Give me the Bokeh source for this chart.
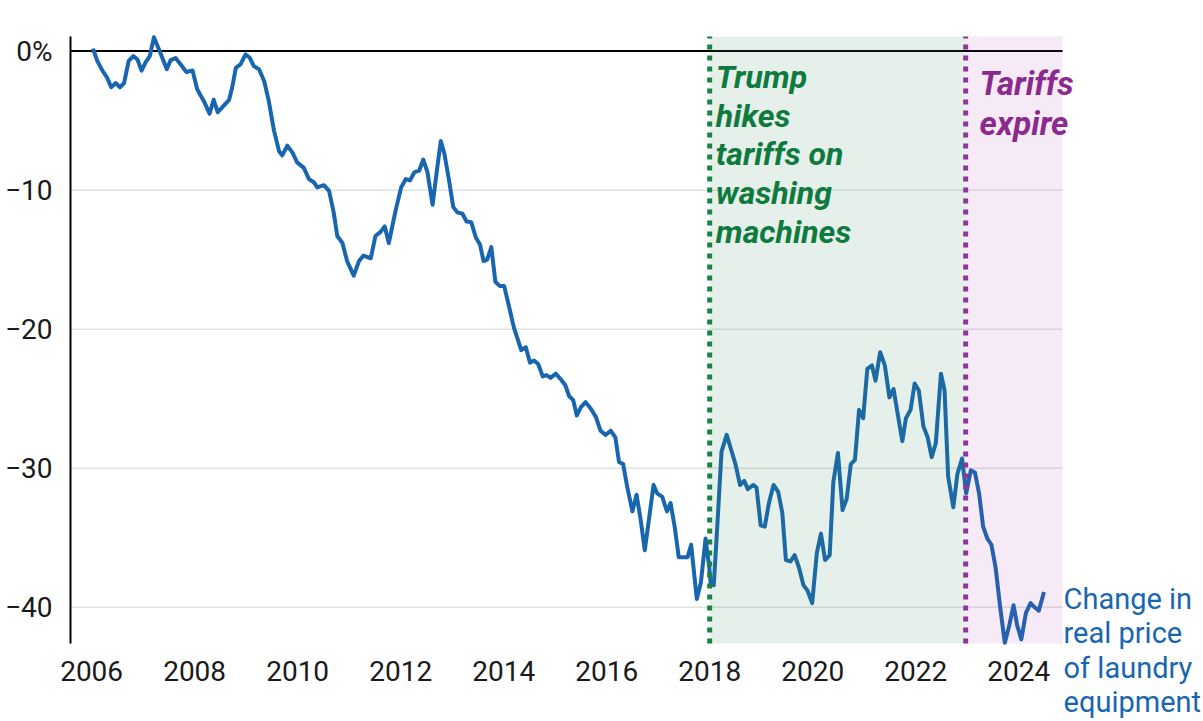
from bokeh.plotting import figure
from bokeh.models import Range1d, FixedTicker, BoxAnnotation, Label
from bokeh.embed import file_html
from bokeh.resources import INLINE

# ---------------- data ----------------
years = [2006.00, 2006.04, 2006.11, 2006.21, 2006.30, 2006.38, 2006.47, 2006.55, 2006.63, 2006.72,
         2006.81, 2006.89, 2006.97, 2007.05, 2007.13, 2007.21, 2007.31, 2007.46, 2007.53, 2007.63,
         2007.73, 2007.84, 2007.96, 2008.05, 2008.18, 2008.29, 2008.37, 2008.45, 2008.57, 2008.67,
         2008.73, 2008.80, 2008.89, 2008.99, 2009.07, 2009.15, 2009.25, 2009.35, 2009.44, 2009.54,
         2009.64, 2009.70, 2009.80, 2009.90, 2009.99, 2010.12, 2010.22, 2010.32, 2010.38, 2010.51,
         2010.61, 2010.70, 2010.77, 2010.87, 2010.96, 2011.09, 2011.19, 2011.28, 2011.42, 2011.51,
         2011.61, 2011.69, 2011.77, 2011.90, 2012.01, 2012.10, 2012.18, 2012.27, 2012.36, 2012.44,
         2012.52, 2012.62, 2012.71, 2012.78, 2012.85, 2012.94, 2013.02, 2013.10, 2013.20, 2013.28,
         2013.37, 2013.46, 2013.54, 2013.61, 2013.68, 2013.76, 2013.84, 2013.93, 2014.01, 2014.10,
         2014.20, 2014.28, 2014.34, 2014.43, 2014.51, 2014.59, 2014.67, 2014.76, 2014.83, 2014.91,
         2015.01, 2015.11, 2015.20, 2015.27, 2015.35, 2015.42, 2015.50, 2015.59, 2015.69, 2015.79,
         2015.88, 2015.98, 2016.08, 2016.17, 2016.24, 2016.32, 2016.40, 2016.50, 2016.58, 2016.66,
         2016.74, 2016.82, 2016.91, 2016.98, 2017.08, 2017.17, 2017.24, 2017.32, 2017.40, 2017.49,
         2017.57, 2017.64, 2017.75, 2017.83, 2017.92, 2017.99, 2018.02, 2018.08, 2018.15, 2018.23,
         2018.33, 2018.42, 2018.50, 2018.59, 2018.67, 2018.74, 2018.85, 2018.91, 2018.99, 2019.07,
         2019.15, 2019.24, 2019.33, 2019.41, 2019.48, 2019.57, 2019.65, 2019.73, 2019.82, 2019.90,
         2019.99, 2020.08, 2020.16, 2020.24, 2020.33, 2020.40, 2020.49, 2020.58, 2020.66, 2020.74,
         2020.82, 2020.90, 2020.98, 2021.06, 2021.15, 2021.22, 2021.31, 2021.40, 2021.49, 2021.57,
         2021.66, 2021.74, 2021.81, 2021.90, 2021.98, 2022.06, 2022.15, 2022.23, 2022.31, 2022.39,
         2022.49, 2022.56, 2022.63, 2022.73, 2022.81, 2022.90, 2022.98, 2023.07, 2023.15, 2023.23,
         2023.31, 2023.39, 2023.47, 2023.55, 2023.64, 2023.73, 2023.81, 2023.90, 2023.97, 2024.05,
         2024.14, 2024.23, 2024.31, 2024.39, 2024.49]

price_change = [0.0, 0.05, -0.7, -1.4, -1.9, -2.6, -2.3, -2.6, -2.3, -0.7,
                -0.36, -0.6, -1.4, -0.8, -0.36, 1.0, 0.1, -1.3, -0.67, -0.5,
                -0.96, -1.5, -1.4, -2.75, -3.6, -4.5, -3.5, -4.4, -3.9, -3.5,
                -2.6, -1.2, -0.96, -0.24, -0.48, -1.08, -1.3, -2.15, -3.6, -5.7,
                -7.2, -7.5, -6.8, -7.3, -8.0, -8.4, -9.2, -9.45, -9.8, -9.64,
                -10.05, -11.6, -13.3, -13.8, -15.1, -16.15, -15.1, -14.7, -14.9, -13.3,
                -13.0, -12.6, -13.8, -11.5, -9.8, -9.2, -9.3, -8.7, -8.6, -7.8,
                -8.7, -11.05, -8.4, -6.46, -7.4, -9.3, -11.2, -11.6, -11.7, -12.25,
                -12.3, -13.4, -13.9, -15.1, -15.0, -14.1, -16.6, -16.9, -16.9, -18.3,
                -19.9, -20.8, -21.5, -21.3, -22.4, -22.25, -22.5, -23.4, -23.3, -23.5,
                -23.2, -23.6, -24.05, -24.8, -25.1, -26.2, -25.6, -25.25, -25.7, -26.3,
                -27.3, -27.6, -27.3, -27.8, -29.55, -29.7, -31.35, -33.1, -31.9, -33.7,
                -35.9, -33.7, -31.2, -31.8, -32.05, -33.1, -32.5, -34.2, -36.4, -36.4,
                -36.4, -35.5, -39.4, -38.2, -35.05, -37.1, -38.3, -38.4, -34.0, -28.8,
                -27.6, -28.7, -29.7, -31.2, -30.9, -31.5, -31.2, -31.4, -34.1, -34.2,
                -32.5, -31.2, -31.7, -33.2, -36.6, -36.7, -36.25, -37.1, -38.4, -38.8,
                -39.7, -36.1, -34.7, -36.6, -36.25, -31.0, -28.9, -33.0, -32.2, -29.7,
                -29.4, -25.8, -26.4, -22.85, -22.6, -23.7, -21.65, -22.6, -24.9, -24.3,
                -26.3, -28.05, -26.4, -25.8, -23.9, -24.4, -27.0, -27.75, -29.2, -28.2,
                -23.2, -24.4, -30.6, -32.8, -30.4, -29.3, -31.8, -30.15, -30.3, -31.8,
                -34.2, -35.05, -35.5, -37.1, -40.0, -42.55, -41.4, -39.85, -41.3, -42.3,
                -40.4, -39.7, -40.0, -40.25, -38.9]

y_ticks = [0, -10, -20, -30, -40]
y_tick_labels = ["0%", "\u221210", "\u221220", "\u221230", "\u221240"]
x_ticks = [2006, 2008, 2010, 2012, 2014, 2016, 2018, 2020, 2022, 2024]

tariff_start = 2018.0
tariff_end = 2022.97

hike_lines = ["Trump", "hikes", "tariffs on", "washing", "machines"]
expire_lines = ["Tariffs", "expire"]
series_lines = ["Change in", "real price", "of laundry", "equipment"]

# ---------------- layout / styling ----------------
W, H = 1203, 721
X_START, X_END = 2005.59, 2024.85      # plotting area extent (data)
Y_MIN, Y_MAX = -42.6, 1.05
LEFT, RIGHT, TOP, BOTTOM = 70, 141, 36, 78   # margins in px around plotting area
PX_X = (W - LEFT - RIGHT) / (X_END - X_START)
PX_Y = (H - TOP - BOTTOM) / (Y_MAX - Y_MIN)

BLUE = "#1966b0"
GREEN_TXT = "#0f7a3e"
GREEN_LINE = "#178446"
PURPLE_TXT = "#8b2a8e"
PURPLE_LINE = "#93329b"
FONT = "Roboto"

p = figure(width=W, height=H, title=None,
           x_range=Range1d(X_START - LEFT / PX_X, X_END + RIGHT / PX_X),
           y_range=Range1d(Y_MIN - BOTTOM / PX_Y, Y_MAX + TOP / PX_Y),
           output_backend="svg", toolbar_location=None,
           min_border=0, min_border_left=0, min_border_right=0,
           min_border_top=0, min_border_bottom=0)
p.outline_line_color = None
p.background_fill_color = "white"
p.border_fill_color = "white"
p.xgrid.visible = False
p.ygrid.visible = False

# axes, placed at the plotting-area edges
xa = p.xaxis[0]
xa.fixed_location = Y_MIN
xa.bounds = (X_START, X_END)
xa.ticker = FixedTicker(ticks=x_ticks)
xa.axis_line_color = None
xa.major_tick_line_color = None
xa.minor_tick_line_color = None
xa.major_label_text_font = FONT
xa.major_label_text_font_size = "28px"
xa.major_label_text_color = "#1a1a1a"
xa.major_label_standoff = 11

ya = p.yaxis[0]
ya.fixed_location = X_START
ya.bounds = (Y_MIN, Y_MAX)
ya.ticker = FixedTicker(ticks=y_ticks)
ya.major_label_overrides = {t: l for t, l in zip(y_ticks, y_tick_labels)}
ya.axis_line_color = "black"
ya.axis_line_width = 2
ya.major_tick_line_color = None
ya.minor_tick_line_color = None
ya.major_label_text_font = FONT
ya.major_label_text_font_size = "28px"
ya.major_label_text_color = "#1a1a1a"
ya.major_label_standoff = 12

# horizontal grid lines (limited to plotting area)
grid_vals = y_ticks[1:]
p.segment(x0=[X_START] * len(grid_vals), x1=[X_END] * len(grid_vals),
          y0=grid_vals, y1=grid_vals, line_color="#e2e2e2", line_width=1.5)

# shaded periods
p.add_layout(BoxAnnotation(left=tariff_start, right=tariff_end, bottom=Y_MIN, top=Y_MAX,
                           fill_color="#2e8b57", fill_alpha=0.13, line_color=None))
p.add_layout(BoxAnnotation(left=tariff_end, right=X_END, bottom=Y_MIN, top=Y_MAX,
                           fill_color="#9b30a8", fill_alpha=0.10, line_color=None))

# zero line
p.segment(x0=[X_START], x1=[X_END], y0=[0], y1=[0], line_color="black", line_width=2)

# series
p.line(years, price_change, line_color=BLUE, line_width=4, line_join="round")

# event lines
p.segment(x0=[tariff_start], x1=[tariff_start], y0=[Y_MIN], y1=[Y_MAX],
          line_color=GREEN_LINE, line_width=5, line_dash="5 6")
p.segment(x0=[tariff_end], x1=[tariff_end], y0=[Y_MIN], y1=[Y_MAX],
          line_color=PURPLE_LINE, line_width=5, line_dash="5 6")

# annotations
for i, t in enumerate(hike_lines):
    p.add_layout(Label(x=2018.12, y=-1.85 - i * 2.79, text=t, text_font=FONT,
                       text_font_style="bold italic", text_font_size="32px",
                       text_color=GREEN_TXT, text_baseline="alphabetic", text_align="left"))
for i, t in enumerate(expire_lines):
    p.add_layout(Label(x=2023.24, y=-2.35 - i * 2.85, text=t, text_font=FONT,
                       text_font_style="bold italic", text_font_size="33px",
                       text_color=PURPLE_TXT, text_baseline="alphabetic", text_align="left"))
for i, t in enumerate(series_lines):
    p.add_layout(Label(x=2024.87, y=-39.4 - i * 2.47, text=t, text_font=FONT,
                       text_font_size="29px", text_color=BLUE,
                       text_baseline="alphabetic", text_align="left"))

open("out.html", "w").write(file_html(p, INLINE))
